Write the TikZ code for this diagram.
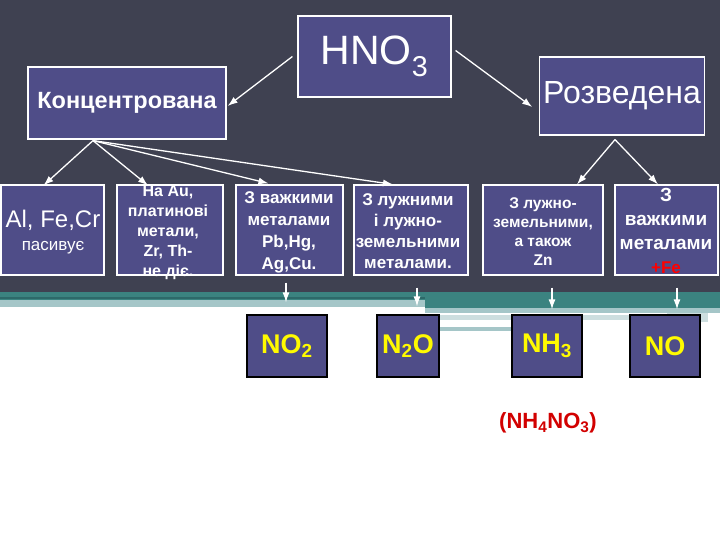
\documentclass[tikz,border=0pt]{standalone}
\usepackage{fontspec}
\setmainfont{Liberation Sans}
\usetikzlibrary{arrows.meta,calc,positioning}
\definecolor{slidebg}{RGB}{63,65,81}
\definecolor{boxfill}{RGB}{79,77,136}
\definecolor{bandteal}{RGB}{59,131,128}
\definecolor{banddark}{RGB}{45,105,105}
\definecolor{bandlight}{RGB}{165,198,200}
\definecolor{bandpale}{RGB}{205,222,223}
\definecolor{formula}{RGB}{255,250,0}
\definecolor{darkred}{RGB}{210,0,0}
\tikzstyle{topbox}=[draw=white, fill=boxfill, rectangle, line width=1.2pt, text=white]
\tikzstyle{rowbox}=[draw=white, fill=boxfill, rectangle, line width=1.2pt, minimum height=90pt]
\tikzstyle{rowtext}=[text=white, align=center, inner sep=0pt]
\tikzstyle{product}=[draw=black, fill=boxfill, rectangle, line width=1.2pt, minimum height=62pt, text=formula, font=\bfseries\fontsize{27}{30}\selectfont]
\tikzstyle{arr}=[->, white, line width=1.3pt]

\begin{document}
\begin{tikzpicture}[x=1pt, y=-1pt, >={Latex[length=10pt,width=7pt]}]
    \useasboundingbox (0,0) rectangle (720,540);
    % slide background
    \fill[white] (0,0) rectangle (720,540);
    \fill[slidebg] (0,0) rectangle (720,292);
    \fill[bandteal] (0,292) rectangle (425,300);
    \fill[banddark] (0,297) rectangle (425,298.5);
    \fill[bandlight] (0,300) rectangle (425,307);
    \fill[bandteal] (425,292) rectangle (720,308);
    \fill[bandlight] (425,308) rectangle (720,313);
    \fill[bandpale] (425,315) rectangle (708,320);
    \fill[bandpale] (667,313) rectangle (708,322);
    \fill[bandlight] (440,327) rectangle (515,331);

    % acid and its two kinds
    \node [topbox, minimum width=153pt, minimum height=81pt, font=\fontsize{41}{44}\selectfont] (hno3) at (374.5,56.5) {HNO\textsubscript{3}};
    \node [topbox, minimum width=198pt, minimum height=72pt, font=\bfseries\fontsize{23.5}{26}\selectfont] (konc) at (127,103) {Концентрована};
    \node [topbox, minimum width=162pt, minimum height=78pt, font=\fontsize{32}{36}\selectfont] (rozv) at (622,96) {Розведена};

    % what the metals give
    \node [rowbox, minimum width=103pt] (al) at (52.5,230) {};
    \node [rowbox, minimum width=106pt] (au) at (170,230) {};
    \node [rowbox, minimum width=107pt] (vazh) at (289.5,230) {};
    \node [rowbox, minimum width=114pt] (luzh) at (411,230) {};
    \node [rowbox, minimum width=120pt] (luzhzem) at (543,230) {};
    \node [rowbox, minimum width=103pt] (vazhfe) at (666.5,230) {};

    \node [rowtext, font=\fontsize{24}{24}\selectfont] (altext) at (53,232) {Al, Fe,Cr\\[-1pt]{\fontsize{17}{20}\selectfont пасивує}};
    \node [rowtext, font=\bfseries\fontsize{16}{20}\selectfont] (autext) at (168,233) {На Au,\\платинові\\метали,\\Zr, Th-\\не діє.};
    \node [rowtext, font=\bfseries\fontsize{17}{22}\selectfont] (vazhtext) at (289,232) {З важкими\\металами\\Pb,Hg,\\Ag,Cu.};
    \node [rowtext, font=\bfseries\fontsize{17}{21}\selectfont] (luzhtext) at (408,231) {З лужними\\і лужно-\\земельними\\металами.};
    \node [rowtext, font=\bfseries\fontsize{15.5}{19}\selectfont] (luzhzemtext) at (543,232) {З лужно-\\земельними,\\а також\\Zn};
    \node [rowtext, font=\bfseries\fontsize{19}{24}\selectfont] (vazhfetext) at (666,231) {З\\важкими\\металами\\{\color{red}\fontsize{17}{18}\selectfont +Fe}};

    % products
    \node [product, minimum width=80pt] (no2) at (287,346) {NO\textsubscript{2}};
    \node [product, minimum width=62pt] (n2o) at (408,346) {N\textsubscript{2}O};
    \node [product, minimum width=70pt] (nh3) at (547,346) {NH\textsubscript{3}};
    \node [product, minimum width=70pt] (no) at (665,346) {NO};
    \node [text=darkred, font=\bfseries\fontsize{22}{24}\selectfont] (nh4no3) at (548,423) {(NH\textsubscript{4}NO\textsubscript{3})};

    \coordinate (kfoot) at ($(konc.south)+(-34,1)$);
    \coordinate (rfoot) at ($(rozv.south)+(-7,4)$);

    \draw[arr] ($(hno3.west)+(-5,0)$) -- ($(konc.east)+(1,3)$);
    \draw[arr] ($(hno3.east)+(4,-6)$) -- ($(rozv.west)+(-7,11)$);
    \draw[arr] (kfoot) -- ($(al.north)+(-9,1)$);
    \draw[arr] (kfoot) -- ($(au.north)+(-22,1)$);
    \draw[arr] (kfoot) -- ($(vazh.north)+(-21,-1)$);
    \draw[arr] (kfoot) -- ($(luzh.north)+(-18,0)$);
    \draw[arr] (rfoot) -- ($(luzhzem.north)+(34,0)$);
    \draw[arr] (rfoot) -- ($(vazhfe.north)+(-8.5,0)$);

    \draw[arr] ($(vazh.south)+(-3.5,7)$) -- ($(no2.north)+(-1,-12)$);
    \draw[arr] ($(luzh.south)+(6,12)$) -- ($(n2o.north)+(9,-8)$);
    \draw[arr] ($(luzhzem.south)+(9,12)$) -- ($(nh3.north)+(5,-5)$);
    \draw[arr] ($(vazhfe.south)+(10.5,12)$) -- ($(no.north)+(12,-5)$);
\end{tikzpicture}
\end{document}
